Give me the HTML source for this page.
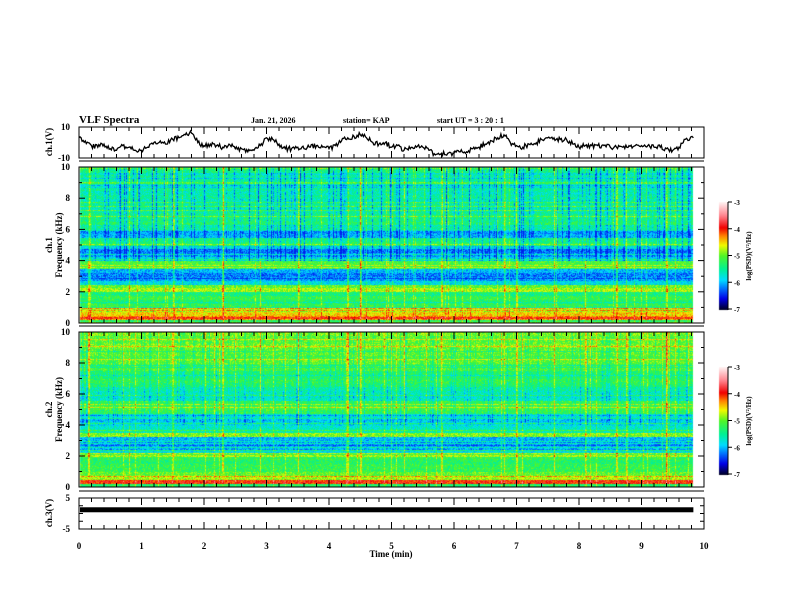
<!DOCTYPE html>
<html><head><meta charset="utf-8"><style>
body{margin:0;background:#fff;width:792px;height:612px;overflow:hidden;position:relative;font-family:"Liberation Serif",serif;font-weight:bold}
canvas,svg{position:absolute;left:0;top:0}
</style></head><body>
<canvas id="spec1" width="792" height="612"></canvas>
<svg id="ov" width="792" height="612" viewBox="0 0 792 612" font-family="Liberation Serif, serif" font-weight="bold"></svg>
<script>
// ---- data ----
const ch1Times=[0,0.1,0.2,0.3,0.4,0.5,0.6,0.7,0.8,0.9,1.0,1.1,1.2,1.3,1.4,1.5,1.6,1.7,1.8,1.9,2.0,2.1,2.2,2.3,2.4,2.5,2.6,2.7,2.8,2.9,3.0,3.1,3.2,3.3,3.4,3.5,3.6,3.7,3.8,3.9,4.0,4.1,4.2,4.3,4.4,4.5,4.6,4.7,4.8,4.9,5.0,5.1,5.2,5.3,5.4,5.5,5.6,5.7,5.8,5.9,6.0,6.1,6.2,6.3,6.4,6.5,6.6,6.7,6.8,6.9,7.0,7.1,7.2,7.3,7.4,7.5,7.6,7.7,7.8,7.9,8.0,8.1,8.2,8.3,8.4,8.5,8.6,8.7,8.8,8.9,9.0,9.1,9.2,9.3,9.4,9.5,9.6,9.7,9.83];
const ch1Values=[3,1,-2,-3,-1,-4,-5,-2,-3,-5,-5,-3,0,1,-1,2,3,5,6,0,-2,-1,-2,-3,-1,-4,-4,-6,-5,-2,3,2,-1,-4,-4,-3,-4,-3,-2,-3,-4,-2,1,3,4,5,3,0,-1,0,-3,-2,-5,-4,-3,-3,-5,-8,-7,-7,-7,-6,-6,-4,-3,-1,1,3,5,0,-2,-3,-1,-1,2,3,3,2,2,-1,-3,-2,-2,-2,-2,-3,-3,-3,-2,-2,-2,-2,-3,-3,-4,-5,-3,2,3];
const ch3Level=1.2;
const ch1Bands=[-5.3,-4.0,-4.5,-4.8,-5.2,-5.3,-5.2,-5.4,-4.8,-5.0,-5.8,-6.1,-6.2,-6.0,-5.2,-5.1,-5.8,-6.1,-6.2,-5.8,-5.3,-5.4,-6.0,-6.1,-5.5,-5.3,-5.4,-5.4,-5.5,-5.6,-5.5,-5.6,-5.5,-5.6,-5.5,-5.6,-5.5,-5.5,-5.4,-5.4];
const ch2Bands=[-5.3,-4.0,-4.8,-5.0,-5.2,-5.2,-5.3,-5.2,-4.8,-5.8,-6.0,-6.1,-6.0,-4.9,-5.6,-5.7,-5.8,-5.9,-5.7,-5.2,-5.1,-5.2,-5.6,-5.7,-5.6,-5.5,-5.3,-5.2,-5.3,-5.3,-5.1,-5.1,-5.0,-5.1,-5.0,-5.0,-4.9,-5.0,-5.0,-4.9];
const burstTimes=[0.15,0.8,1.5,2.3,2.9,3.5,4.3,4.5,5.2,5.8,6.8,7.0,7.6,8.1,8.6,8.75,9.4];
const timeTicks=[0,1,2,3,4,5,6,7,8,9,10];
const freqTicks=[0,2,4,6,8,10];
const cbTicks=[-3,-4,-5,-6,-7];
// ---- layout ----
const X0=79,X1=704,TMAX=9.83;
const xs=t=>X0+(X1-X0)*t/10;
const P1={top:127,bot:158},S1={top:167,bot:323},S2={top:332,bot:487},P3={top:498,bot:529};
const ysV=(p,v,lo,hi)=>p.bot-(p.bot-p.top)*(v-lo)/(hi-lo);
function h(a,b){let n=(a*374761393+b*668265263)^0x5bd1e995;n=Math.imul(n^(n>>>13),1274126177);n=n^(n>>>16);return ((n>>>0)%10000)/10000;}
const stops=[[-7,[0,0,40]],[-6.6,[0,0,230]],[-6.2,[0,120,255]],[-5.9,[0,220,255]],[-5.5,[0,240,150]],[-5.0,[80,245,40]],[-4.6,[240,250,0]],[-4.25,[255,130,0]],[-3.95,[240,0,0]],[-3.5,[255,130,140]],[-3,[255,240,240]]];
function cmap(v){if(v<=-7)return stops[0][1];if(v>=-3)return stops[stops.length-1][1];
 for(let i=1;i<stops.length;i++){if(v<=stops[i][0]){const a=stops[i-1],b=stops[i],f=(v-a[0])/(b[0]-a[0]);return a[1].map((c,k)=>c+(b[1][k]-c)*f);}}}
const cv=document.getElementById('spec1'),ctx=cv.getContext('2d');
const img=ctx.createImageData(792,612);
function drawSpec(S,bands,seed,streak){
 const xe=Math.round(xs(TMAX));
 for(let y=S.top;y<S.bot;y++){
  const f=10*(S.bot-y)/(S.bot-S.top);const bi=Math.min(39,Math.floor(f/0.25));
  const rj=h(y,seed);const rowJ=(rj>0.9?0.45:(rj<0.05?-0.3:0));
  for(let x=X0+1;x<xe;x++){
   const t=(x-X0)/(X1-X0)*10;
   let v=bands[bi]+rowJ+(h(x*7+seed,y*13)-0.5)*0.6;
   const cn=h(x,seed*3);
   if(f>4&&cn<0.3)v-=streak*(0.3-cn)*2.5*(0.6+0.4*h(x,y));
   if(cn>0.95)v+=0.4;
   for(const bt of burstTimes){if(Math.abs(t-bt)<0.012)v+=0.6*(f>1?1:0.3);}
   if(v<-6.5)v=-6.5;
   const c=cmap(v);const o=(y*792+x)*4;img.data[o]=c[0];img.data[o+1]=c[1];img.data[o+2]=c[2];img.data[o+3]=255;
  }}
}
drawSpec(S1,ch1Bands,11,1.2);drawSpec(S2,ch2Bands,29,0.7);
function drawCB(top){for(let y=top;y<top+108;y++){const v=-3-4*(y-top)/107;const c=cmap(v);for(let x=719;x<728;x++){const o=(y*792+x)*4;img.data[o]=c[0];img.data[o+1]=c[1];img.data[o+2]=c[2];img.data[o+3]=255;}}}
drawCB(202);drawCB(367);
ctx.putImageData(img,0,0);
// ---- svg ----
const svg=document.getElementById('ov');const NS='http://www.w3.org/2000/svg';
function el(tag,attrs,parent){const e=document.createElementNS(NS,tag);for(const k in attrs)e.setAttribute(k,attrs[k]);(parent||svg).appendChild(e);return e;}
function txt(s,x,y,size,anchor,rot){const e=el('text',{x:x,y:y,'font-size':size,'text-anchor':anchor||'start'});if(rot)e.setAttribute('transform','rotate(-90 '+x+' '+y+')');e.textContent=s;return e;}
let t;
t=txt('VLF Spectra',79,123,11);
t=txt('Jan. 21, 2026',251,123,8);
t=txt('station= KAP',343,123,8);
t=txt('start  UT =   3 : 20 : 1',437,123,8);
function frame(p,name){const r=el('rect',{x:X0,y:p.top,width:X1-X0,height:p.bot-p.top,fill:'none',stroke:'#000','stroke-width':1});
 for(let i=0;i<=50;i++){const x=X0+(X1-X0)*i/50;const L=i%5==0?7:4;
  const a=el('line',{x1:x,y1:p.top,x2:x,y2:p.top+L,stroke:'#000'});
  const b=el('line',{x1:x,y1:p.bot,x2:x,y2:p.bot-L,stroke:'#000'});}}
[[P1,'ch1-voltage'],[S1,'ch1-spec'],[S2,'ch2-spec'],[P3,'ch3-voltage']].forEach(a=>frame(a[0],a[1]));
el('line',{x1:X0,y1:P1.bot+3,x2:X1,y2:P1.bot+3,stroke:'#000'});
el('line',{x1:X0,y1:S1.bot+3,x2:X1,y2:S1.bot+3,stroke:'#000'});
el('line',{x1:X0,y1:S2.bot+4,x2:X1,y2:S2.bot+4,stroke:'#000'});
[S1,S2].forEach((S,k)=>{for(let f=0;f<=10;f++){const y=S.bot-(S.bot-S.top)*f/10;const L=f%2==0?6:3;
 const a=el('line',{x1:X0,y1:y,x2:X0+L,y2:y,stroke:'#000'});
 el('line',{x1:X1,y1:y,x2:X1-L,y2:y,stroke:'#000'});}
 freqTicks.forEach(f=>{const y=S.bot-(S.bot-S.top)*f/10;const e=txt(String(f),70,y+3,9,'end');});
 const yl=(S.top+S.bot)/2;
 let e=txt('ch.'+(k+1),52,yl,9,'middle',true);
 e=txt('Frequency  (kHz)',62,yl,9,'middle',true);
});
// ch1 voltage (rendered with small deterministic wiggle for visual texture)
let d='';ch1Times.forEach((tm,i)=>{
 const x0=xs(tm),y0=ysV(P1,ch1Values[i],-10,10);
 d+=(i?'L':'M')+x0.toFixed(1)+' '+y0.toFixed(1);
 if(i<ch1Times.length-1){const x1=xs(ch1Times[i+1]),y1=ysV(P1,ch1Values[i+1],-10,10);
  for(let k=1;k<6;k++){const f=k/6;d+='L'+(x0+(x1-x0)*f).toFixed(1)+' '+(y0+(y1-y0)*f+(h(i*6+k,5)-0.5)*5).toFixed(1);}}
});
let p=el('path',{d:d,fill:'none',stroke:'#000','stroke-width':1.3});
[[10,'10'],[-10,'-10']].forEach(a=>{const e=txt(a[1],70,ysV(P1,a[0],-10,10)+3,9,'end');});
t=txt('ch.1(V)',52,142,9,'middle',true);
const yb=ysV(P3,ch3Level,-5,5);
p=el('rect',{x:X0+1,y:yb-2.5,width:xs(TMAX)-X0-1,height:5,fill:'#000'});
[[5,'5'],[-5,'-5']].forEach(a=>{const y=ysV(P3,a[0],-5,5);const e=txt(a[1],70,y+3,9,'end');});
for(let v=-5;v<=5;v+=2.5){const y=ysV(P3,v,-5,5);el('line',{x1:X0,y1:y,x2:X0+4,y2:y,stroke:'#000'});el('line',{x1:X1,y1:y,x2:X1-4,y2:y,stroke:'#000'});}
t=txt('ch.3(V)',52,513,9,'middle',true);
timeTicks.forEach(tm=>{const e=txt(String(tm),xs(tm),549,9,'middle');});
t=txt('Time  (min)',391,557,9,'middle');
[202,367].forEach((top,k)=>{const a=el('line',{x1:728,y1:top,x2:728,y2:top+108,stroke:'#000'});
 cbTicks.forEach(v=>{const y=top+(-3-v)/4*107;el('line',{x1:728,y1:y,x2:732,y2:y,stroke:'#000'});const e=txt(String(v),734,y+3,7);});
 const e=txt('log(PSD)(V²/Hz)',751,top+54,7,'middle',true);});
</script>
</body></html>
